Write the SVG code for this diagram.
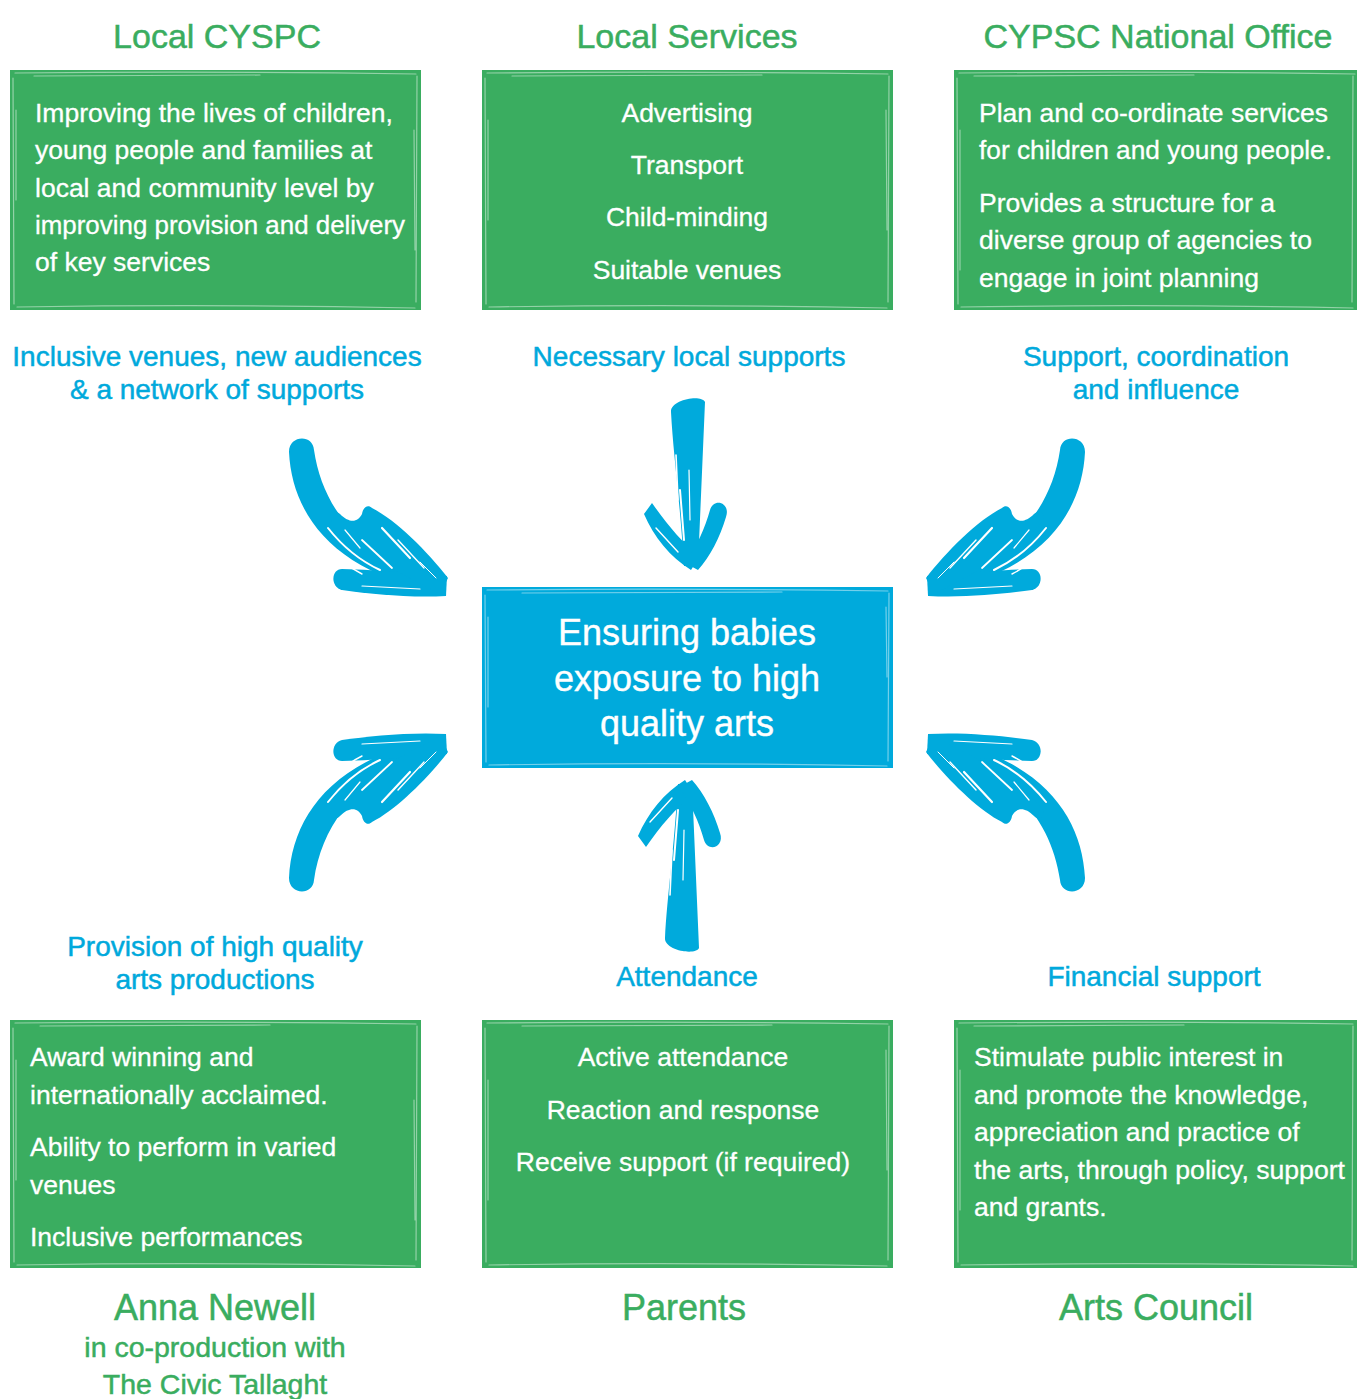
<svg xmlns="http://www.w3.org/2000/svg" xmlns:xlink="http://www.w3.org/1999/xlink" width="1357" height="1399" viewBox="0 0 1357 1399">
  <style>
    text { font-family: "Liberation Sans", Arial, sans-serif; }
    .title { fill: #3aad5f; stroke: #3aad5f; stroke-width: 0.5; font-size: 34px; text-anchor: middle; }
    .name { fill: #3aad5f; stroke: #3aad5f; stroke-width: 0.5; font-size: 36px; text-anchor: middle; }
    .sub { fill: #3aad5f; stroke: #3aad5f; stroke-width: 0.5; font-size: 28.5px; text-anchor: middle; }
    .lbl { fill: #00a9dc; stroke: #00a9dc; stroke-width: 0.5; font-size: 28px; text-anchor: middle; }
    .body { fill: #ffffff; stroke: #ffffff; stroke-width: 0.3; font-size: 26.5px; }
    .mid { text-anchor: middle; }
    .centre { fill: #ffffff; stroke: #ffffff; stroke-width: 0.4; font-size: 36px; text-anchor: middle; }
    .green { fill: #3aad60; }
    .blue { fill: #00aadc; }
    .sketch { fill: none; stroke: #ffffff; stroke-opacity: 0.45; stroke-width: 1.2; stroke-linecap: round; }
    .ink { fill: #00aadc; }
    .dry { fill: none; stroke: #ffffff; stroke-linecap: round; }
  </style>
  <defs>
    <!-- curved brush arrow, drawn pointing down-right; the others are mirrored copies -->
    <g id="curveArrow">
      <path class="ink" d="M289,452 C292,514 333,573 442,593 L445,580 C366,562 323,512 314,450 C313,434 289,435 289,452 Z"/>
      <path class="ink" d="M342,569 C380,570 425,574 447,576 L446,596 C410,598 370,594 342,590 C330,587 331,569 342,569 Z"/>
      <path class="ink" d="M372,508 C396,520 428,552 448,578 L440,594 C405,575 362,556 332,522 C328,513 334,508 340,514 C350,524 358,522 362,514 C363,507 368,504 372,508 Z"/>
      <path class="dry" stroke-width="2" d="M328,528 Q350,556 380,570"/>
      <path class="dry" stroke-width="1.4" d="M318,537 Q338,562 362,574"/>
      <path class="dry" stroke-width="2.2" d="M382,528 L410,558"/>
      <path class="dry" stroke-width="1.4" d="M398,540 L424,568"/>
      <path class="dry" stroke-width="1.8" d="M362,540 L392,568"/>
      <path class="dry" stroke-width="1.2" d="M345,530 L360,548"/>
      <path class="dry" stroke-width="1.2" d="M362,586 L420,589"/>
      <path class="dry" stroke-width="1" d="M420,562 L436,578"/>
    </g>
    <!-- straight brush arrow, drawn pointing down -->
    <g id="straightArrow">
      <path class="ink" d="M671,412 C670,400 701,394 705,402 L698,566 L684,566 C680,500 673,452 671,412 Z"/>
      <path class="ink" d="M644,514 L652,503 C666,523 682,543 700,556 L691,570 C670,557 654,537 644,514 Z"/>
      <path class="ink" d="M710,510 C714,497 731,503 726,517 C720,537 710,557 698,570 L685,563 C697,546 705,528 710,510 Z"/>
      <path class="dry" stroke-width="1.6" d="M676,455 L678,500"/>
      <path class="dry" stroke-width="2" d="M680,490 L684,540"/>
      <path class="dry" stroke-width="1.4" d="M656,528 L678,552"/>
      <path class="dry" stroke-width="1.2" d="M689,470 L690,520"/>
    </g>
  </defs>

  <rect width="1357" height="1399" fill="#ffffff"/>

  <!-- connectors: brush arrows pointing at the central box -->
  <g id="connectors">
    <use xlink:href="#curveArrow"/>
    <use xlink:href="#curveArrow" transform="translate(1374,0) scale(-1,1)"/>
    <use xlink:href="#curveArrow" transform="translate(0,1330) scale(1,-1)"/>
    <use xlink:href="#curveArrow" transform="translate(1374,1330) scale(-1,-1)"/>
    <use xlink:href="#straightArrow"/>
    <use xlink:href="#straightArrow" transform="translate(-6,1350) scale(1,-1)"/>
  </g>

  <!-- Local CYSPC -->
  <g id="local-cyspc">
    <text class="title" x="217" y="48">Local CYSPC</text>
    <g transform="translate(10,70)">
      <rect class="green" width="411" height="240"/>
      <path class="sketch" d="M5,3 Q205,1 406,4 M24,6 L250,5 M3,8 L4,234 M6,40 L6,130 M407,6 L406,232 M404,60 L405,180 M7,237 Q205,234 405,238"/>
    </g>
    <text class="body" x="35" y="122">Improving the lives of children,</text>
    <text class="body" x="35" y="159">young people and families at</text>
    <text class="body" x="35" y="197">local and community level by</text>
    <text class="body" x="35" y="234" textLength="370" lengthAdjust="spacingAndGlyphs">improving provision and delivery</text>
    <text class="body" x="35" y="271">of key services</text>
    <text class="lbl" x="217" y="366">Inclusive venues, new audiences</text>
    <text class="lbl" x="217" y="399">&amp; a network of supports</text>
  </g>

  <!-- Local Services -->
  <g id="local-services">
    <text class="title" x="687" y="48">Local Services</text>
    <g transform="translate(482,70)">
      <rect class="green" width="411" height="240"/>
      <path class="sketch" d="M5,3 Q205,1 406,4 M30,6 L280,5 M3,8 L4,234 M6,50 L6,150 M407,6 L406,232 M404,40 L405,160 M7,237 Q205,234 405,238"/>
    </g>
    <text class="body mid" x="687" y="122">Advertising</text>
    <text class="body mid" x="687" y="174">Transport</text>
    <text class="body mid" x="687" y="226">Child-minding</text>
    <text class="body mid" x="687" y="279">Suitable venues</text>
    <text class="lbl" x="689" y="366">Necessary local supports</text>
  </g>

  <!-- CYPSC National Office -->
  <g id="cypsc-national-office">
    <text class="title" x="1158" y="48">CYPSC National Office</text>
    <g transform="translate(954,70)">
      <rect class="green" width="403" height="240"/>
      <path class="sketch" d="M5,3 Q205,1 401,4 M20,6 L240,5 M3,8 L4,234 M6,60 L6,200 M399,6 L398,232 M7,237 Q205,234 399,238"/>
    </g>
    <text class="body" x="979" y="122">Plan and co-ordinate services</text>
    <text class="body" x="979" y="159" textLength="353" lengthAdjust="spacingAndGlyphs">for children and young people.</text>
    <text class="body" x="979" y="212">Provides a structure for a</text>
    <text class="body" x="979" y="249">diverse group of agencies to</text>
    <text class="body" x="979" y="287">engage in joint planning</text>
    <text class="lbl" x="1156" y="366">Support, coordination</text>
    <text class="lbl" x="1156" y="399">and influence</text>
  </g>

  <!-- central goal -->
  <g id="goal">
    <g transform="translate(482,587)">
      <rect class="blue" width="411" height="181"/>
      <path class="sketch" d="M5,3 Q205,1 406,4 M40,6 L300,5 M3,8 L4,175 M6,30 L6,120 M407,6 L406,174 M404,20 L405,90 M7,178 Q205,175 405,179"/>
    </g>
    <text class="centre" x="687" y="645">Ensuring babies</text>
    <text class="centre" x="687" y="691">exposure to high</text>
    <text class="centre" x="687" y="736">quality arts</text>
  </g>

  <!-- Anna Newell -->
  <g id="anna-newell">
    <text class="lbl" x="215" y="956">Provision of high quality</text>
    <text class="lbl" x="215" y="989">arts productions</text>
    <g transform="translate(10,1020)">
      <rect class="green" width="411" height="248"/>
      <path class="sketch" d="M5,3 Q205,1 406,4 M30,6 L260,5 M3,8 L4,242 M6,40 L6,160 M407,6 L406,240 M404,80 L405,200 M7,245 Q205,242 405,246"/>
    </g>
    <text class="body" x="30" y="1066">Award winning and</text>
    <text class="body" x="30" y="1104">internationally acclaimed.</text>
    <text class="body" x="30" y="1156">Ability to perform in varied</text>
    <text class="body" x="30" y="1194">venues</text>
    <text class="body" x="30" y="1246">Inclusive performances</text>
    <text class="name" x="215" y="1320">Anna Newell</text>
    <text class="sub" x="215" y="1357">in co-production with</text>
    <text class="sub" x="215" y="1394">The Civic Tallaght</text>
  </g>

  <!-- Parents -->
  <g id="parents">
    <text class="lbl" x="687" y="986">Attendance</text>
    <g transform="translate(482,1020)">
      <rect class="green" width="411" height="248"/>
      <path class="sketch" d="M5,3 Q205,1 406,4 M40,6 L290,5 M3,8 L4,242 M6,60 L6,180 M407,6 L406,240 M404,30 L405,150 M7,245 Q205,242 405,246"/>
    </g>
    <text class="body mid" x="683" y="1066">Active attendance</text>
    <text class="body mid" x="683" y="1119">Reaction and response</text>
    <text class="body mid" x="683" y="1171">Receive support (if required)</text>
    <text class="name" x="684" y="1320">Parents</text>
  </g>

  <!-- Arts Council -->
  <g id="arts-council">
    <text class="lbl" x="1154" y="986">Financial support</text>
    <g transform="translate(954,1020)">
      <rect class="green" width="403" height="248"/>
      <path class="sketch" d="M5,3 Q205,1 399,4 M20,6 L230,5 M3,8 L4,242 M6,50 L6,190 M399,6 L398,240 M7,245 Q205,242 399,246"/>
    </g>
    <text class="body" x="974" y="1066">Stimulate public interest in</text>
    <text class="body" x="974" y="1104">and promote the knowledge,</text>
    <text class="body" x="974" y="1141">appreciation and practice of</text>
    <text class="body" x="974" y="1179" textLength="371" lengthAdjust="spacingAndGlyphs">the arts, through policy, support</text>
    <text class="body" x="974" y="1216">and grants.</text>
    <text class="name" x="1156" y="1320">Arts Council</text>
  </g>
</svg>
